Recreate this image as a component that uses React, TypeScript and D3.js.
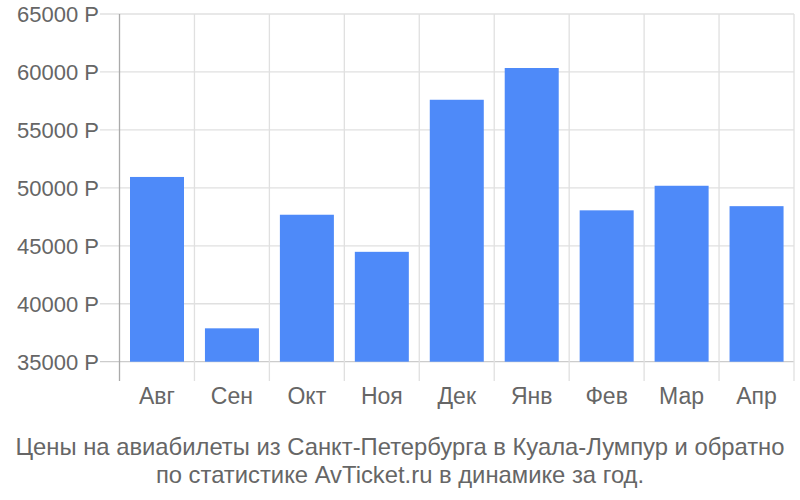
import { useEffect, useRef } from "react";
import * as d3 from "d3";

const months = ["Авг", "Сен", "Окт", "Ноя", "Дек", "Янв", "Фев", "Мар", "Апр"];
const prices = [50940, 37880, 47680, 44480, 57600, 60340, 48060, 50180, 48420];
const yTicks = [35000, 40000, 45000, 50000, 55000, 60000, 65000];
const captionLines = [
    "Цены на авиабилеты из Санкт-Петербурга в Куала-Лумпур и обратно",
    "по статистике AvTicket.ru в динамике за год.",
];

export default function App() {
    const ref = useRef<SVGSVGElement | null>(null);

    useEffect(() => {
        const width = 800;
        const height = 500;
        const left = 119.5;
        const right = 794;
        const top = 14;
        const bottom = 361.7;
        const font = "'Liberation Sans', Arial, sans-serif";

        const svg = d3.select(ref.current);
        svg.selectAll("*").remove();

        const x = d3.scaleBand<string>().domain(months).range([left, right]).paddingInner(0).paddingOuter(0);
        const y = d3.scaleLinear().domain([35000, 65000]).range([bottom, top]);

        // horizontal grid
        svg.append("g")
            .selectAll("line")
            .data(yTicks)
            .join("line")
            .attr("x1", 100)
            .attr("x2", right)
            .attr("y1", (d) => y(d))
            .attr("y2", (d) => y(d))
            .attr("stroke", (d) => (d === 35000 ? "#ccc" : "#e0e0e0"))
            .attr("stroke-width", 1.3);

        // vertical grid
        const xs = months.map((m) => x(m)! + x.bandwidth());
        svg.append("g")
            .selectAll("line")
            .data(xs)
            .join("line")
            .attr("x1", (d) => d)
            .attr("x2", (d) => d)
            .attr("y1", top)
            .attr("y2", 381)
            .attr("stroke", "#e0e0e0")
            .attr("stroke-width", 1.3);

        svg.append("line")
            .attr("x1", left)
            .attr("x2", left)
            .attr("y1", top)
            .attr("y2", 381)
            .attr("stroke", "#aaa")
            .attr("stroke-width", 1.3);

        // bars
        svg.append("g")
            .selectAll("rect")
            .data(prices)
            .join("rect")
            .attr("x", (_, i) => x(months[i])! + 10.5)
            .attr("width", 54)
            .attr("y", (d) => y(d))
            .attr("height", (d) => bottom - y(d))
            .attr("fill", "#4e8af9");

        // y labels
        svg.append("g")
            .selectAll("text")
            .data(yTicks)
            .join("text")
            .attr("x", 99)
            .attr("y", (d) => y(d))
            .attr("dy", "0.36em")
            .attr("text-anchor", "end")
            .attr("font-family", font)
            .attr("font-size", 22)
            .attr("fill", "#666")
            .text((d) => `${d} Р`);

        // x labels
        svg.append("g")
            .selectAll("text")
            .data(months)
            .join("text")
            .attr("x", (d) => x(d)! + x.bandwidth() / 2)
            .attr("y", 404)
            .attr("text-anchor", "middle")
            .attr("font-family", font)
            .attr("font-size", 23)
            .attr("fill", "#666")
            .text((d) => d);

        svg.append("g")
            .selectAll("text")
            .data(captionLines)
            .join("text")
            .attr("x", width / 2)
            .attr("y", (_, i) => 455 + i * 28)
            .attr("text-anchor", "middle")
            .attr("font-family", font)
            .attr("font-size", 23.8)
            .attr("fill", "#666")
            .text((d) => d);

        svg.attr("width", width).attr("height", height);
    }, []);

    return (
        <svg
            ref={ref}
            width={800}
            height={500}
            style={{ position: "absolute", left: 0, top: 0, background: "#fff" }}
        />
    );
}
